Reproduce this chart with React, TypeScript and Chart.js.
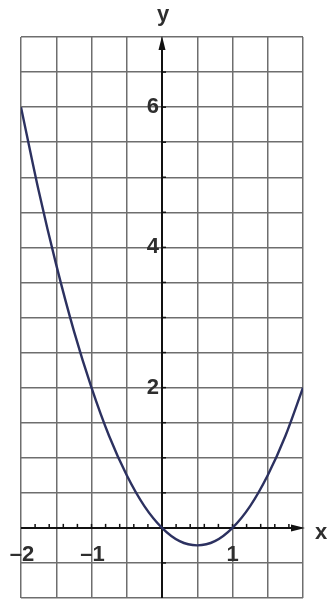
import React, { useEffect, useRef } from "react";
import { Chart, registerables } from "chart.js";

Chart.register(...registerables);

// Points along the parabola
const xValues = [-2, -1.75, -1.5, -1.25, -1, -0.75, -0.5, -0.25, 0, 0.25, 0.5, 0.75, 1, 1.25, 1.5, 1.75, 2];
const yValues = [6, 4.81, 3.75, 2.81, 2, 1.31, 0.75, 0.31, 0, -0.19, -0.25, -0.19, 0, 0.31, 0.75, 1.31, 2];

// Axis ranges and labelled ticks
const xRange = [-2, 2];
const yRange = [-1, 7];
const xTickLabels = [-2, -1, 1];
const yTickLabels = [2, 4, 6];
const gridStep = 0.5;
const xMinorStep = 0.2;

const FONT = '"Liberation Sans", Arial, sans-serif';
const TEXT = "#2e2e2e";

const axesPlugin = {
  id: "cartesianAxes",
  beforeDatasetsDraw(chart: any) {
    const { ctx, chartArea, scales } = chart;
    const xs = scales.x;
    const ys = scales.y;
    const ox = xs.getPixelForValue(0);
    const oy = ys.getPixelForValue(0);
    ctx.save();
    ctx.strokeStyle = "#111";
    ctx.fillStyle = "#111";
    ctx.lineWidth = 2;

    // x axis
    ctx.beginPath();
    ctx.moveTo(chartArea.left, oy);
    ctx.lineTo(chartArea.right - 6, oy);
    ctx.stroke();
    ctx.beginPath();
    ctx.moveTo(chartArea.right + 2, oy);
    ctx.lineTo(chartArea.right - 12, oy - 3.5);
    ctx.lineTo(chartArea.right - 12, oy + 3.5);
    ctx.closePath();
    ctx.fill();

    // y axis
    ctx.beginPath();
    ctx.moveTo(ox, chartArea.bottom);
    ctx.lineTo(ox, chartArea.top + 6);
    ctx.stroke();
    ctx.beginPath();
    ctx.moveTo(ox, chartArea.top - 1);
    ctx.lineTo(ox - 3.5, chartArea.top + 13);
    ctx.lineTo(ox + 3.5, chartArea.top + 13);
    ctx.closePath();
    ctx.fill();

    // minor ticks on the x axis
    ctx.lineWidth = 1.5;
    const nx = Math.round((xRange[1] - xRange[0]) / xMinorStep);
    for (let i = 1; i < nx; i++) {
      const v = xRange[0] + i * xMinorStep;
      if (Math.abs(v) < 1e-6) continue;
      const px = xs.getPixelForValue(v);
      ctx.beginPath();
      ctx.moveTo(px, oy);
      ctx.lineTo(px, oy - 4);
      ctx.stroke();
    }
    // ticks on the y axis
    const ny = Math.round((yRange[1] - yRange[0]) / gridStep);
    for (let i = 1; i < ny; i++) {
      const v = yRange[0] + i * gridStep;
      if (Math.abs(v) < 1e-6) continue;
      const py = ys.getPixelForValue(v);
      ctx.beginPath();
      ctx.moveTo(ox, py);
      ctx.lineTo(ox + 4, py);
      ctx.stroke();
    }

    // labels
    ctx.fillStyle = TEXT;
    ctx.font = `bold 22px ${FONT}`;
    ctx.textAlign = "right";
    ctx.textBaseline = "middle";
    for (const v of yTickLabels) {
      ctx.fillText(String(v), ox - 3, ys.getPixelForValue(v));
    }
    ctx.textAlign = "center";
    ctx.textBaseline = "alphabetic";
    for (const v of xTickLabels) {
      const s = v < 0 ? "\u2013" + Math.abs(v) : String(v);
      ctx.fillText(s, xs.getPixelForValue(v) + (v < 0 ? 1 : 0), oy + 33);
    }
    ctx.textBaseline = "middle";
    ctx.fillText("y", ox + 1, chartArea.top - 22);
    ctx.fillText("x", chartArea.right + 18, oy + 5);
    ctx.restore();
  },
};

export default function App() {
  const ref = useRef<HTMLCanvasElement>(null);

  useEffect(() => {
    document.body.style.margin = "0";
    const canvas = ref.current;
    if (!canvas) return;
    const chart = new Chart(canvas, {
      type: "scatter",
      data: {
        datasets: [
          {
            data: xValues.map((x, i) => ({ x, y: yValues[i] })),
            showLine: true,
            borderColor: "#2c3160",
            borderWidth: 2.4,
            pointRadius: 0,
            cubicInterpolationMode: "monotone",
            fill: false,
          },
        ],
      },
      options: {
        responsive: false,
        animation: false,
        devicePixelRatio: 1,
        layout: { padding: { left: 21, right: 25, top: 37, bottom: 8 } },
        plugins: { legend: { display: false }, tooltip: { enabled: false } },
        scales: {
          x: {
            type: "linear",
            min: xRange[0],
            max: xRange[1],
            ticks: { display: false, stepSize: gridStep },
            border: { display: false },
            grid: { color: "#6e6e6e", lineWidth: 1.5, drawTicks: false },
          },
          y: {
            type: "linear",
            min: yRange[0],
            max: yRange[1],
            ticks: { display: false, stepSize: gridStep },
            border: { display: false },
            grid: { color: "#6e6e6e", lineWidth: 1.5, drawTicks: false },
          },
        },
      },
      plugins: [axesPlugin],
    });
    return () => chart.destroy();
  }, []);

  return (
    <div style={{ width: 328, height: 606, background: "#fff" }}>
      <canvas ref={ref} width={328} height={606} style={{ display: "block" }} />
    </div>
  );
}
